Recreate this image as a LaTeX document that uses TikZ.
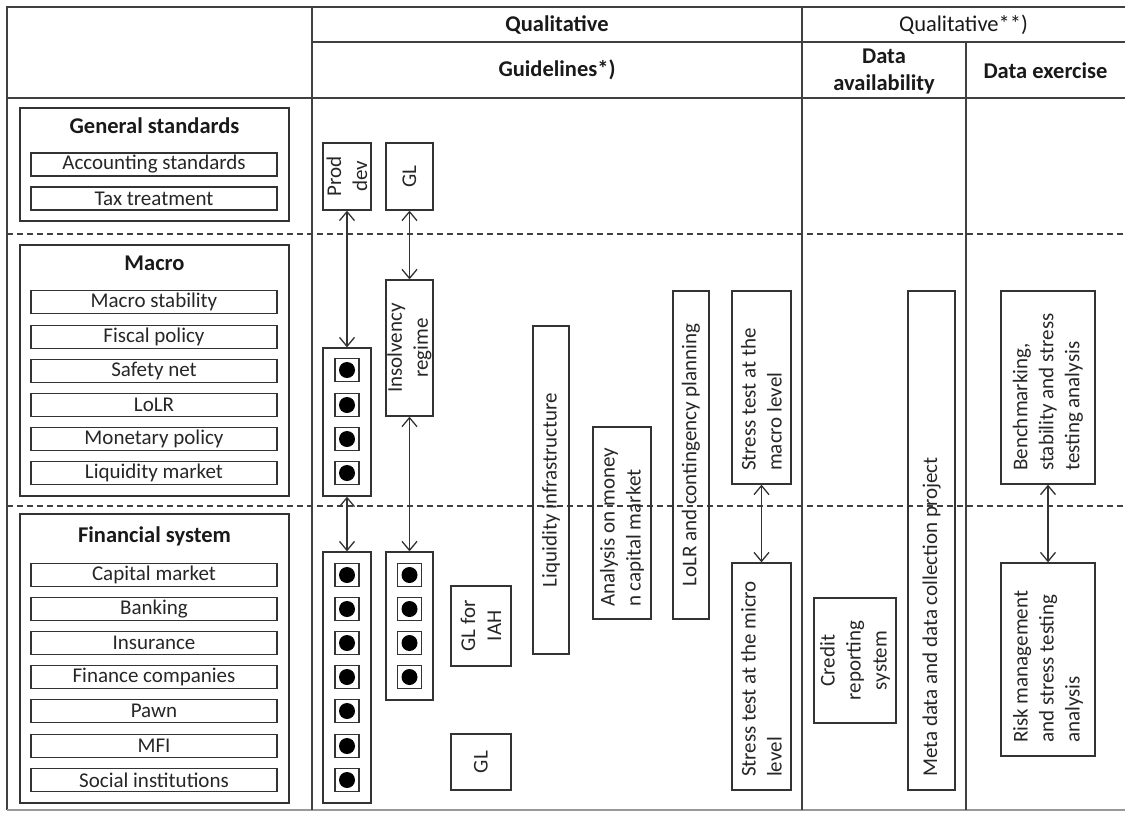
\documentclass[tikz,border=0pt]{standalone}
\usepackage{fontspec}
\setmainfont{Carlito}
\usetikzlibrary{arrows.meta}
\newcommand\fsItem{\fontsize{21}{26}\selectfont}
\newcommand\fsHead{\fontsize{22.5}{27}\selectfont}
\begin{document}
\begin{tikzpicture}[x=1pt,y=-1pt,
  grid/.style={draw=black!75, line width=1.6pt},
  dashline/.style={draw=black!75, line width=1.3pt, dash pattern=on 6pt off 4pt},
  outerbox/.style={draw=black!80, line width=1.5pt, inner sep=0pt},
  itembox/.style={draw=black!80, line width=1.3pt, minimum width=246, minimum height=23, inner sep=0pt, font=\fsItem, text=black!85},
  title/.style={font=\fsHead\bfseries, text=black!90, inner sep=0pt},
  vbox/.style={draw=black!80, line width=1.3pt, rotate=90, inner sep=0pt, font=\fsItem, text=black!85},
  vtxt/.style={rotate=90, inner sep=0pt, font=\fsItem, text=black!85, align=left, anchor=west},
  dotbox/.style={draw=black!80, line width=1.3pt, minimum width=24, minimum height=23, inner sep=0pt,
    path picture={\fill[black] (path picture bounding box.center) circle (8pt);}},
  arr/.style={{Straight Barb[length=9pt,width=15pt]}-{Straight Barb[length=9pt,width=15pt]}, draw=black!80, line width=1.3pt}]
\useasboundingbox (0,0) rectangle (1125,812);
% grid
\draw[grid] (1125,7) -- (7,7) -- (7,810);
\draw[grid, draw=black!40] (7,810) -- (1125,810);
\draw[grid] (312,7) -- (312,810);
\draw[grid] (802,7) -- (802,810);
\draw[grid] (966,42) -- (966,810);
\draw[grid] (312,42) -- (1125,42);
\draw[grid] (7,98) -- (1125,98);
\draw[dashline] (7,234) -- (1125,234);
\draw[dashline] (7,506) -- (1125,506);
% headers
\node[title] (hq) at (557,25) {Qualitative};
\node[title] (hg) at (557,70) {Guidelines*)};
\node[title, font=\fsHead] (hq2) at (963.5,25) {Qualitative**)};
\node[title, align=center] (hda) at (884,71) {Data\\availability};
\node[title] (hde) at (1045.5,71) {Data exercise};
% left column
\node[outerbox, minimum width=269, minimum height=113] (gs) at (154.5,164.5) {};
\node[title] (gst) at (154.5,126) {General standards};
\node[itembox] (acc) at (154,164.5) {Accounting standards};
\node[itembox] (tax) at (154,198.5) {Tax treatment};
\node[outerbox, minimum width=269, minimum height=251] (mac) at (154.5,370.5) {};
\node[title] (mact) at (154.5,263) {Macro};
\foreach \t/\y [count=\i] in {Macro stability/302,Fiscal policy/337,Safety net/371,LoLR/405,Monetary policy/439,Liquidity market/473}
  \node[itembox] (mi\i) at (154,\y) {\t};
\node[outerbox, minimum width=269, minimum height=289] (fin) at (154.5,658.5) {};
\node[title] (fint) at (154.5,536) {Financial system};
\foreach \t/\y [count=\i] in {Capital market/575,Banking/609,Insurance/643,Finance companies/677,Pawn/711,MFI/746,Social institutions/780}
  \node[itembox] (fi\i) at (154,\y) {\t};
% dot columns
\node[outerbox, line width=1.3pt, minimum width=48, minimum height=148] (mdots) at (347,422) {};
\foreach \y [count=\i] in {370,405,439,473} \node[dotbox] (md\i) at (347,\y) {};
\node[outerbox, line width=1.3pt, minimum width=48, minimum height=251] (fdots1) at (347,677.5) {};
\foreach \y [count=\i] in {575,609,643,677,711,746,780} \node[dotbox] (fa\i) at (347,\y) {};
\node[outerbox, line width=1.3pt, minimum width=47, minimum height=148] (fdots2) at (409.5,626) {};
\foreach \y [count=\i] in {575,609,643,677} \node[dotbox] (fb\i) at (409.5,\y) {};
% vertical boxes
\node[vbox, minimum width=67, minimum height=48, align=center] (proddev) at (347,176.5) {Prod\\dev};
\node[vbox, minimum width=67, minimum height=47] (gltop) at (409.5,176.5) {GL};
\node[vbox, minimum width=136, minimum height=47, align=center] (insolv) at (409.5,348) {Insolvency\\regime};
\node[vbox, minimum width=80, minimum height=60, align=center] (glIAH) at (481,626) {GL for\\IAH};
\node[vbox, minimum width=56, minimum height=60] (glbot) at (481,762) {GL};
\node[vbox, minimum width=328, minimum height=36] (liqinf) at (551,490) {Liquidity infrastructure};
\node[vbox, minimum width=192, minimum height=58] (anal) at (622,523) {};
\node[vtxt] (analt) at (622,607) {Analysis on money\\n capital market};
\node[vbox, minimum width=328, minimum height=36] (lolr) at (691,455) {LoLR and contingency planning};
\node[vbox, minimum width=193, minimum height=59] (stmacro) at (761.5,387.5) {};
\node[vtxt] (stmacrot) at (761.5,471) {Stress test at the\\macro level};
\node[vbox, minimum width=227, minimum height=59] (stmicro) at (761.5,676.5) {};
\node[vtxt] (stmicrot) at (761.5,777) {Stress test at the micro\\level};
\node[vbox, minimum width=125, minimum height=82, align=center] (credit) at (855,660.5) {Credit\\reporting\\system};
\node[vbox, minimum width=499, minimum height=47] (meta) at (931.5,540.5) {};
\node[vtxt] (metat) at (931.5,777) {Meta data and data collection project};
\node[vbox, minimum width=193, minimum height=94] (bench) at (1048,387.5) {};
\node[vtxt] (bencht) at (1048,471) {Benchmarking,\\stability and stress\\testing analysis};
\node[vbox, minimum width=193, minimum height=94] (risk) at (1048,659.5) {};
\node[vtxt] (riskt) at (1048,743) {Risk management\\and stress testing\\analysis};
% arrows
\draw[arr] (proddev) -- (mdots);
\draw[arr] (gltop) -- (insolv);
\draw[arr] (mdots) -- (fdots1);
\draw[arr] (insolv) -- (fdots2);
\draw[arr] (stmacro) -- (stmicro);
\draw[arr] (bench) -- (risk);
\end{tikzpicture}
\end{document}
